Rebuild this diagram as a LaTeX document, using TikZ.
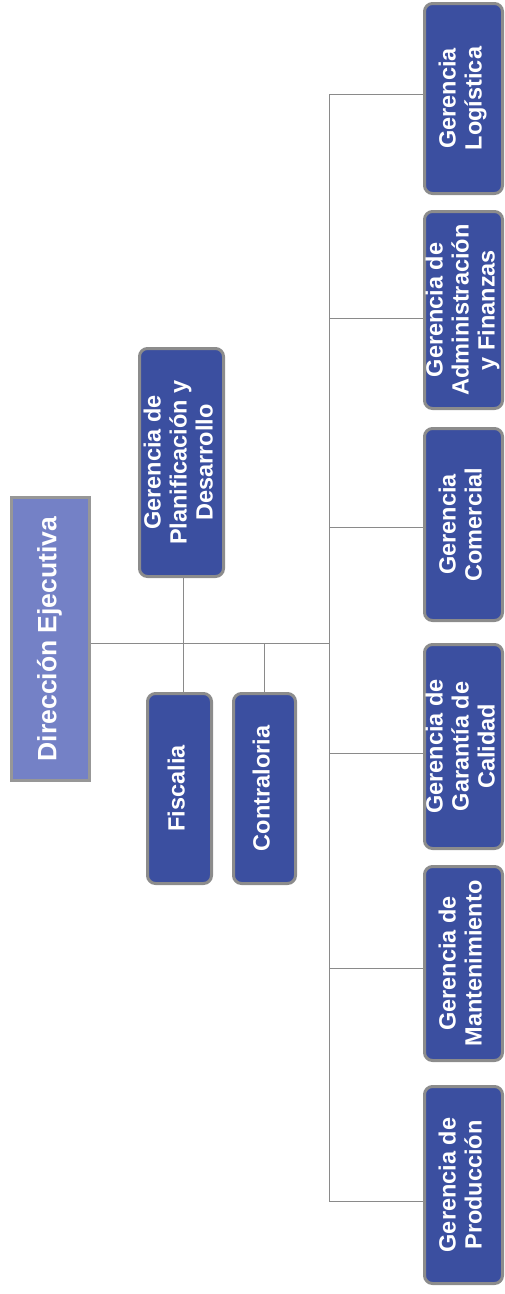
\documentclass[tikz,border=0pt]{standalone}
\usepackage{fontspec}
\setmainfont{Liberation Sans}
\usepackage{graphicx}
\definecolor{boxfill}{HTML}{3B4FA0}
\definecolor{dirfill}{HTML}{7481C6}
\definecolor{boxline}{HTML}{8C8C8C}
\definecolor{connline}{HTML}{8A8A8A}
\newcommand{\vtext}[2][23.5]{\rotatebox{90}{\fontsize{#1}{26}\selectfont\bfseries\begin{tabular}{@{}c@{}}#2\end{tabular}}}
\tikzset{
  gbox/.style={draw=boxline, line width=3pt, fill=boxfill, rounded corners=8pt, text=white, inner sep=0pt},
  dbox/.style={draw=boxline!90!white, line width=3pt, fill=dirfill, text=white, inner sep=0pt},
  conn/.style={draw=connline, line width=1pt}
}
\begin{document}
\begin{tikzpicture}[x=1pt,y=-1pt]
\useasboundingbox (0,0) rectangle (505,1294);
% Top-level
\node[dbox, minimum width=78pt, minimum height=283pt] (dir) at (50.5,639) {\vtext[26.5]{Dirección Ejecutiva}};
\node[gbox, minimum width=84pt, minimum height=228pt] (plan) at (181.5,462.5) {\vtext{Gerencia de\\Planificación y\\Desarrollo}};
\node[gbox, minimum width=64pt, minimum height=190pt] (fis) at (179.5,788.5) {\vtext{Fiscalia}};
\node[gbox, minimum width=62pt, minimum height=190pt] (con) at (264.5,788.5) {\vtext{Contraloria}};
% Right column
\node[gbox, minimum width=78pt, minimum height=190pt] (log) at (463.5,98.5) {\vtext{Gerencia\\Logística}};
\node[gbox, minimum width=78pt, minimum height=197pt] (adm) at (463.5,310) {\vtext{Gerencia de\\Administración\\y Finanzas}};
\node[gbox, minimum width=78pt, minimum height=192pt] (com) at (463.5,524.5) {\vtext{Gerencia\\Comercial}};
\node[gbox, minimum width=78pt, minimum height=204pt] (gar) at (463.5,746.5) {\vtext{Gerencia de\\Garantía de\\Calidad}};
\node[gbox, minimum width=78pt, minimum height=194pt] (man) at (463.5,963.5) {\vtext{Gerencia de\\Mantenimiento}};
\node[gbox, minimum width=78pt, minimum height=197pt] (pro) at (463.5,1185) {\vtext{Gerencia de\\Producción}};
% junction coordinates
\coordinate (jd) at (329,643);
\coordinate (jp) at (183,643);
\coordinate (jc) at (264,643);
\coordinate (b1) at (329,94);
\coordinate (b2) at (329,318);
\coordinate (b3) at (329,527);
\coordinate (b4) at (329,753);
\coordinate (b5) at (329,968);
\coordinate (b6) at (329,1201);
% connectors
\draw[conn] (jd -| dir.east) -- (jd);
\draw[conn] (jp |- plan.south) -- (jp |- fis.north);
\draw[conn] (jc) -- (jc |- con.north);
\draw[conn] (b1) -- (b6);
\draw[conn] (b1) -- (b1 -| log.west);
\draw[conn] (b2) -- (b2 -| adm.west);
\draw[conn] (b3) -- (b3 -| com.west);
\draw[conn] (b4) -- (b4 -| gar.west);
\draw[conn] (b5) -- (b5 -| man.west);
\draw[conn] (b6) -- (b6 -| pro.west);
\end{tikzpicture}
\end{document}
